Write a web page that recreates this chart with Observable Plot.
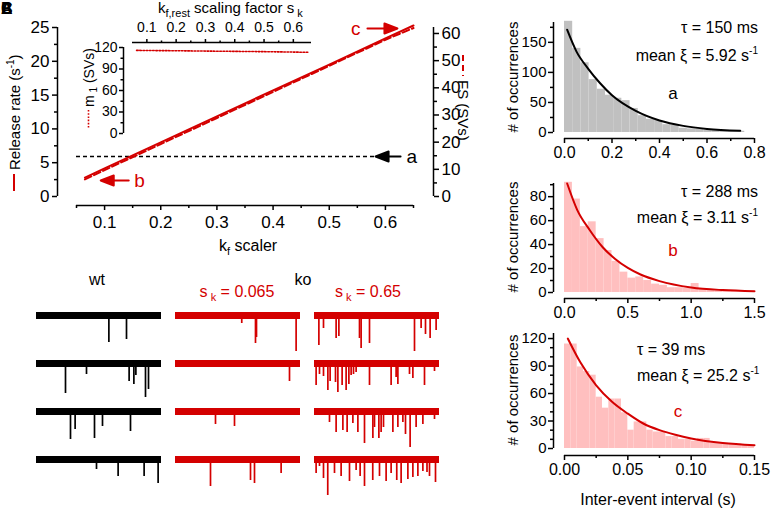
<!DOCTYPE html>
<html><head><meta charset="utf-8">
<script src="https://cdn.jsdelivr.net/npm/d3@7"></script>
<script src="https://cdn.jsdelivr.net/npm/@observablehq/plot@0.6"></script>
<style>
body{margin:0;background:#fff;}
#fig{position:relative;width:772px;height:510px;overflow:hidden;font-family:"Liberation Sans",Arial,sans-serif;background:#fff;}
</style></head><body><div id="fig"></div>
<script>
const RED = "#d40000";
const PINK = "#ffbfbf";
const GRAY = "#c0c0c0";
const FONT = "Liberation Sans, Arial, sans-serif";

// ---------- Panel A: release rate vs k_f scaler ----------
const skValues    = [0.065, 0.1, 0.2, 0.3, 0.4, 0.5, 0.6, 0.65];
const releaseRate = [2.8, 4.15, 8.0, 11.85, 15.7, 19.5, 23.4, 25.3];   // s^-1 (left axis)
const fsSVs       = [6.3, 9.7, 19.3, 28.9, 38.5, 48.1, 57.7, 62.0];     // SVs (right axis)
const m1SVs       = [116, 115.8, 115.5, 115.0, 114.6, 114.2, 113.6, 113.3]; // inset
const wtReleaseRate = 5.92;
const leftTicks  = [0, 5, 10, 15, 20, 25];
const rightTicks = [0, 10, 20, 30, 40, 50, 60];
const xTicksA    = [0.1, 0.2, 0.3, 0.4, 0.5, 0.6];
const insetYTicks = [0, 30, 60, 90, 120];
const fsTop = 62.2, rateTop = 25;
const fsToRate = rateTop / fsTop;
// annotation arrows (tail position in data units, direction, length in px, label position)
const arrowNotes = [
  {label: "a", x: 0.627, y: wtReleaseRate, rotate: -90, len: 25, lx: 0.647, color: "black"},
  {label: "b", x: 0.143, y: 2.37, rotate: -90, len: 28, lx: 0.162, color: RED},
  {label: "c", x: 0.568, y: 24.85, rotate: 90, len: 30, lx: 0.547, color: RED}
];

// ---------- Histograms ----------
const histA_binWidth = 0.0345;
const histA_counts = [185,140,116,88,72,62,57,53,40,28,22,20,13,12,7,6,6,4,4,3,3,2];
const fitA = [[0.011,171],[0.05,135],[0.1,106],[0.15,82],[0.2,62],[0.3,36],[0.4,20],[0.5,11],[0.6,6],[0.74,3]];
const histB_binWidth = 0.0625;
const histB_counts = [92,78,55,59,45,35,26,17,12,13,10,7,6,4,4,3.5,7.5,3,2,1.5,1,1,1,0.5];
const fitB = [[0.021,91],[0.1,69],[0.2,52],[0.3,38],[0.4,28],[0.5,20.5],[0.6,15],[0.75,9.5],[1.0,4.2],[1.25,2],[1.5,1]];
const histC_binWidth = 0.005;
const histC_counts = [114,114,89,84,80,56,44,54,54,39,20,29,29,20,18,18,13,13,10,10,8,11,11,6,6,5.5,5,5,3.5,2.5];
const fitC = [[0.0026,120],[0.0125,94],[0.025,69],[0.0375,51],[0.05,38],[0.0625,27],[0.075,20],[0.0875,15],[0.1,11],[0.125,6],[0.15,3.6]];

// ---------- Traces: spikes [time fraction, depth] per row ----------
const traceColumns = ["wt", "ko 0.065", "ko 0.65"];
const traceRows = [1, 2, 3, 4];
const spikesWt = [
  [[0.579,27],[0.72,24]],
  [[0.232,30],[0.4,11],[0.741,18],[0.779,21],[0.795,12],[0.872,34],[0.896,26]],
  [[0.272,28],[0.309,18],[0.464,27],[0.528,15],[0.752,20]],
  [[0.48,10],[0.653,17],[0.861,17],[0.973,24]]
];
const spikesKo065 = [
  [[0.53,8],[0.64,28],[0.648,22],[0.965,36]],
  [[0.912,18]],
  [[0.32,13],[0.472,15]],
  [[0.28,27],[0.6,21],[0.632,24],[0.845,14]]
];
const spikesKo65 = [
  [[0.035,30],[0.072,13],[0.173,23],[0.195,21],[0.36,23],[0.373,33],[0.44,28],[0.8,36],[0.853,13],[0.888,19],[0.925,23],[0.973,15]],
  [[0.013,22],[0.04,11],[0.072,13],[0.107,27],[0.125,18],[0.168,19],[0.187,29],[0.221,22],[0.253,27],[0.275,21],[0.293,12],[0.312,11],[0.333,9],[0.44,22],[0.613,22],[0.653,14],[0.667,21],[0.76,11],[0.787,15],[0.88,22],[0.96,8]],
  [[0.12,11],[0.173,21],[0.227,19],[0.261,21],[0.307,12],[0.347,21],[0.4,32],[0.467,27],[0.48,16],[0.515,27],[0.533,21],[0.552,16],[0.627,21],[0.667,16],[0.707,11],[0.728,23],[0.765,36],[0.813,16],[0.867,13],[0.96,8]],
  [[0.013,14],[0.04,7],[0.072,19],[0.106,36],[0.16,14],[0.213,17],[0.28,22],[0.333,11],[0.365,17],[0.4,27],[0.466,21],[0.52,17],[0.573,22],[0.613,14],[0.658,21],[0.693,24],[0.747,20],[0.787,18],[0.827,17],[0.867,12],[0.9,13],[0.92,17],[0.968,23]]
];

// ---------- helpers ----------
const fig = document.getElementById("fig");
function place(el, left, top) {
  el.style.position = "absolute"; el.style.left = left + "px"; el.style.top = top + "px";
  el.style.overflow = "visible"; fig.appendChild(el);
}
const baseStyle = {fontFamily: FONT, fontSize: "16px", background: "transparent", overflow: "visible", color: "black"};
const minorOf = (ticks) => ticks.slice(0, -1).map((t, i) => (t + ticks[i + 1]) / 2);
const blank = () => "";
const f1 = d3.format(".1f");

// ---------- Panel A main ----------
const panelA = skValues.map((sk, i) => ({sk, rate: releaseRate[i], fs: fsSVs[i], m1: m1SVs[i]}));
const arrowShape = {draw(ctx, l) { const h = 13, w = 5; ctx.moveTo(0, 0); ctx.lineTo(0, -l + h); ctx.moveTo(0, -l); ctx.lineTo(w, -l + h); ctx.lineTo(-w, -l + h); ctx.closePath(); }};

const mainA = Plot.plot({
  width: 470, height: 260, marginLeft: 76, marginRight: 57, marginTop: 27, marginBottom: 64,
  x: {domain: [0.05, 0.65], label: null}, y: {domain: [0, 25], label: null},
  length: {type: "identity"},
  style: baseStyle,
  marks: [
    Plot.ruleX([0.05], {y1: 0, y2: 25, dx: -19, strokeWidth: 1.5}),
    Plot.axisY({ticks: leftTicks, tickSize: 5, tickPadding: 3, dx: -19, fontSize: 17, strokeWidth: 1.5, label: null}),
    Plot.axisY({ticks: minorOf(leftTicks), tickSize: 3, dx: -19, tickFormat: blank, strokeWidth: 1.5, label: null}),
    Plot.ruleY([0], {x1: 0.05, x2: 0.65, dy: 9, strokeWidth: 1.5}),
    Plot.axisX({ticks: xTicksA, tickSize: 5, tickPadding: 5, dy: 9, fontSize: 17, tickFormat: f1, strokeWidth: 1.5, label: null}),
    Plot.axisX({ticks: [0.05, ...minorOf([...xTicksA, 0.7])], tickSize: 3, dy: 9, tickFormat: blank, strokeWidth: 1.5, label: null}),
    Plot.ruleX([0.65], {y1: 0, y2: fsTop * fsToRate, dx: 20, strokeWidth: 1.5}),
    Plot.axisY({anchor: "right", ticks: rightTicks.map(v => v * fsToRate), tickFormat: v => String(Math.round(v / fsToRate)), tickSize: 5, tickPadding: 3, dx: 20, fontSize: 17, strokeWidth: 1.5, label: null}),
    Plot.axisY({anchor: "right", ticks: minorOf(rightTicks).map(v => v * fsToRate), tickSize: 3, dx: 20, tickFormat: blank, strokeWidth: 1.5, label: null}),
    Plot.ruleY([wtReleaseRate], {x1: 0.05, x2: 0.584, stroke: "black", strokeWidth: 1.5, strokeDasharray: "4,3"}),
    Plot.line(panelA, {x: "sk", y: d => d.fs * fsToRate, stroke: RED, strokeWidth: 2, strokeDasharray: "7,3"}),
    Plot.line(panelA, {x: "sk", y: "rate", stroke: RED, strokeWidth: 2}),
    Plot.vector(arrowNotes, {x: "x", y: "y", rotate: "rotate", length: "len", anchor: "start", shape: arrowShape, stroke: "color", fill: "color", strokeWidth: 2}),
    Plot.text(arrowNotes, {x: "lx", y: "y", text: "label", fill: "color", fontSize: 19, textAnchor: "middle"})
  ]
});
place(mainA, 0, 0);

// ---------- Inset ----------
const inset = Plot.plot({
  width: 330, height: 150, marginLeft: 132, marginRight: 19, marginTop: 47, marginBottom: 17,
  x: {domain: [0.051, 0.662], label: null}, y: {domain: [0, 120], label: null},
  style: baseStyle,
  marks: [
    Plot.ruleY([120], {x1: 0.051, x2: 0.662, dy: -5, strokeWidth: 1.5}),
    Plot.axisX({anchor: "top", ticks: xTicksA, tickSize: 4, tickPadding: 7, dy: -5, fontSize: 14, tickFormat: f1, strokeWidth: 1.5, label: null}),
    Plot.axisX({anchor: "top", ticks: minorOf([...xTicksA, 0.7]).slice(0, -1), tickSize: 2.5, dy: -5, tickFormat: blank, strokeWidth: 1.5, label: null}),
    Plot.ruleX([0.051], {y1: 0, y2: 120, dx: -9, strokeWidth: 1.5}),
    Plot.axisY({ticks: insetYTicks, tickSize: 4, tickPadding: 2, dx: -9, fontSize: 14, strokeWidth: 1.5, label: null}),
    Plot.axisY({ticks: minorOf(insetYTicks), tickSize: 2.5, dx: -9, tickFormat: blank, strokeWidth: 1.5, label: null}),
    Plot.line(panelA, {x: "sk", y: "m1", stroke: RED, strokeWidth: 1.6, strokeDasharray: "1.6,1.6"})
  ]
});
place(inset, 0, 0);

// ---------- Histograms ----------
function histPlot({counts, bw, fit, xmax, xTicks, xMinor, xFmt, ymax, yTicks, yMinor, color, fitColor, top, height, mt, mb, dy}) {
  const bins = counts.map((c, i) => ({x1: i * bw, x2: (i + 1) * bw, c}));
  const fitPts = fit.map(([x, y]) => ({x, y}));
  const p = Plot.plot({
    width: 292, height, marginLeft: 84, marginRight: 18, marginTop: mt, marginBottom: mb,
    x: {domain: [0, xmax], label: null}, y: {domain: [0, ymax], label: null},
    style: baseStyle,
    marks: [
      Plot.rectY(bins, {x1: "x1", x2: "x2", y: "c", fill: color}),
      Plot.line(fitPts, {x: "x", y: "y", stroke: fitColor, strokeWidth: 2, curve: "monotone-x"}),
      Plot.ruleX([0], {y1: 0, y2: ymax, dx: -11, strokeWidth: 1.5}),
      Plot.axisY({ticks: yTicks, tickSize: 5, tickPadding: 2, dx: -11, fontSize: 15, strokeWidth: 1.5, label: null}),
      Plot.axisY({ticks: yMinor, tickSize: 3, dx: -11, tickFormat: blank, strokeWidth: 1.5, label: null}),
      Plot.ruleY([0], {x1: 0, x2: xmax, dy, strokeWidth: 1.5}),
      Plot.axisX({ticks: xTicks, tickSize: 5, tickPadding: 3, dy, fontSize: 16, tickFormat: xFmt, strokeWidth: 1.5, label: null}),
      Plot.axisX({ticks: xMinor, tickSize: 3, dy, tickFormat: blank, strokeWidth: 1.5, label: null})
    ]
  });
  place(p, 480, top);
}
histPlot({counts: histA_counts, bw: histA_binWidth, fit: fitA, xmax: 0.8, xTicks: [0, 0.2, 0.4, 0.6, 0.8], xMinor: [0.1, 0.3, 0.5, 0.7], xFmt: f1,
  ymax: 183, yTicks: [0, 50, 100, 150], yMinor: [25, 75, 125, 175], color: GRAY, fitColor: "black", top: 0, height: 165, mt: 22, mb: 33, dy: 6});
histPlot({counts: histB_counts, bw: histB_binWidth, fit: fitB, xmax: 1.5, xTicks: [0, 0.5, 1.0, 1.5], xMinor: [0.25, 0.75, 1.25], xFmt: f1,
  ymax: 91, yTicks: [0, 20, 40, 60, 80], yMinor: [10, 30, 50, 70, 90], color: PINK, fitColor: RED, top: 165, height: 160, mt: 18, mb: 33, dy: 6});
histPlot({counts: histC_counts, bw: histC_binWidth, fit: fitC, xmax: 0.15, xTicks: [0, 0.05, 0.1, 0.15], xMinor: [0.025, 0.075, 0.125], xFmt: d3.format(".2f"),
  ymax: 125.5, yTicks: [0, 30, 60, 90, 120], yMinor: [10, 20, 40, 50, 70, 80, 100, 110], color: PINK, fitColor: RED, top: 315, height: 195, mt: 18, mb: 62, dy: 7});

// ---------- Traces ----------
const spikeSets = [spikesWt, spikesKo065, spikesKo65];
const spikes = [], baselines = [];
traceColumns.forEach((col, ci) => traceRows.forEach((row, ri) => {
  const color = ci === 0 ? "black" : RED;
  baselines.push({col, row, color});
  spikeSets[ci][ri].forEach(([t, depth]) => spikes.push({col, row, t, depth, color}));
}));
const traces = Plot.plot({
  width: 445, height: 215, marginLeft: 35, marginRight: 5, marginTop: 12, marginBottom: 11,
  fx: {domain: traceColumns, axis: null, paddingInner: 0.1, paddingOuter: 0},
  fy: {domain: traceRows, axis: null, paddingInner: 0, paddingOuter: 0},
  x: {domain: [0, 1], axis: null}, y: {domain: [-40, 8], axis: null},
  style: baseStyle,
  marks: [
    Plot.ruleY(baselines, {fx: "col", fy: "row", y: () => 0, x1: () => 0, x2: () => 1, stroke: "color", strokeWidth: 7}),
    Plot.ruleX(spikes, {fx: "col", fy: "row", x: "t", y1: () => 0, y2: d => -d.depth, stroke: "color", strokeWidth: 1.7})
  ]
});
place(traces, 0, 295);

// ---------- Text overlay ----------
const ov = `
<svg width="772" height="510" style="position:absolute;left:0;top:0;pointer-events:none" font-family="${FONT}" font-size="16">
  <g font-weight="bold" font-size="16"><text x="1" y="14">A</text><text x="1" y="14">B</text><text x="1" y="14">C</text></g>
  <g transform="translate(20,170) rotate(-90)"><text font-size="15">Release rate (s<tspan dy="-6" font-size="10">-1</tspan><tspan dy="6">)</tspan></text></g>
  <line x1="14" y1="174" x2="14" y2="191" stroke="${RED}" stroke-width="2"/>
  <g transform="translate(458,80) rotate(90)"><text font-size="15">FS (SVs)</text></g>
  <line x1="463" y1="55" x2="463" y2="76" stroke="${RED}" stroke-width="2" stroke-dasharray="6,4"/>
  <text x="219" y="251" font-size="16">k<tspan dy="4" font-size="11">f</tspan><tspan dy="-4"> scaler</tspan></text>
  <text x="158" y="13" font-size="15">k<tspan dy="4" font-size="11">f,rest</tspan><tspan dy="-4"> scaling factor s</tspan><tspan dy="4" font-size="11"> k</tspan></text>
  <g transform="translate(94,107) rotate(-90)"><text font-size="14">m<tspan dy="3" font-size="10"> 1</tspan><tspan dy="-3"> (SVs)</tspan></text></g>
  <line x1="88.5" y1="110" x2="88.5" y2="129" stroke="${RED}" stroke-width="1.6" stroke-dasharray="1.6,1.6"/>

  <text x="758" y="33" text-anchor="end">τ = 150 ms</text>
  <text x="758" y="61" text-anchor="end">mean ξ = 5.92 s<tspan dy="-7" font-size="10">-1</tspan></text>
  <text x="673" y="99" text-anchor="middle" font-size="17">a</text>
  <text x="758" y="197" text-anchor="end">τ = 288 ms</text>
  <text x="758" y="223" text-anchor="end">mean ξ = 3.11 s<tspan dy="-7" font-size="10">-1</tspan></text>
  <text x="673" y="256" text-anchor="middle" font-size="17" fill="${RED}">b</text>
  <text x="637" y="355">τ = 39 ms</text>
  <text x="637" y="381">mean ξ = 25.2 s<tspan dy="-7" font-size="10">-1</tspan></text>
  <text x="678" y="417" text-anchor="middle" font-size="17" fill="${RED}">c</text>
  <g transform="translate(518,77) rotate(-90)"><text text-anchor="middle" font-size="15"># of occurrences</text></g>
  <g transform="translate(518,237) rotate(-90)"><text text-anchor="middle" font-size="15"># of occurrences</text></g>
  <g transform="translate(518,390) rotate(-90)"><text text-anchor="middle" font-size="15"># of occurrences</text></g>
  <text x="658" y="505" text-anchor="middle">Inter-event interval (s)</text>

  <text x="97" y="285" text-anchor="middle">wt</text>
  <text x="303" y="285" text-anchor="middle">ko</text>
  <text x="237" y="297" text-anchor="middle" fill="${RED}">s<tspan dy="4" font-size="11"> k</tspan><tspan dy="-4"> = 0.065</tspan></text>
  <text x="368" y="297" text-anchor="middle" fill="${RED}">s<tspan dy="4" font-size="11"> k</tspan><tspan dy="-4"> = 0.65</tspan></text>
</svg>`;
fig.insertAdjacentHTML("beforeend", ov);
</script></body></html>
